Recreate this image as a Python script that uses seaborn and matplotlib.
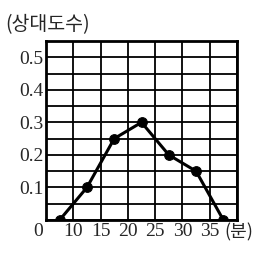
import matplotlib
matplotlib.use("Agg")
import matplotlib.pyplot as plt
import seaborn as sns
import pandas as pd
import numpy as np

minutes = [7.5, 12.5, 17.5, 22.5, 27.5, 32.5, 37.5]
rel_freq = [0.0, 0.1, 0.25, 0.3, 0.2, 0.15, 0.0]
x_ticks = [10, 15, 20, 25, 30, 35]
x_tick_labels = ["10", "15", "20", "25", "30", "35"]
y_ticks = [0.1, 0.2, 0.3, 0.4, 0.5]
y_tick_labels = ["0.1", "0.2", "0.3", "0.4", "0.5"]

sns.set_style("white")
plt.rcParams['font.family'] = ['Liberation Serif', 'Noto Sans CJK KR']

df = pd.DataFrame({"x": minutes, "y": rel_freq})

fig = plt.figure(figsize=(2.57, 2.60), dpi=100)
ax = fig.add_axes([46/257, 1-220/260, (237-46)/257, (220-41)/260])

for gx in np.arange(5, 40.1, 5):
    ax.axvline(gx, color="black", lw=1.3, zorder=1)
for gy in np.arange(0, 0.551, 0.05):
    ax.axhline(gy, color="black", lw=1.3, zorder=1)

sns.lineplot(data=df, x="x", y="y", ax=ax, color="black", lw=2.2,
             marker="o", markersize=7, markeredgecolor="black", zorder=3)

ax.set_xlim(5, 40)
ax.set_ylim(0, 0.55)
ax.set_xticks(x_ticks)
ax.set_xticklabels(x_tick_labels, fontsize=14)
ax.set_yticks(y_ticks)
ax.set_yticklabels(y_tick_labels, fontsize=14)
ax.tick_params(axis="both", length=0)
ax.tick_params(axis="x", pad=2)
ax.tick_params(axis="y", pad=2)
ax.set_xlabel("")
ax.set_ylabel("")
for s in ax.spines.values():
    s.set_visible(True)
    s.set_color("black")
    s.set_linewidth(2)

ax.text(4.4, -0.008, "0", ha="right", va="top", fontsize=14)
ax.text(40.3, -0.01, "(분)", ha="center", va="top", fontsize=13,
        family=['Noto Sans CJK KR'])
fig.text(5/257, 1-25/260, "(상대도수)", ha="left", va="center", fontsize=14,
         family=['Noto Sans CJK KR'])

fig.savefig("out.png", dpi=100)
